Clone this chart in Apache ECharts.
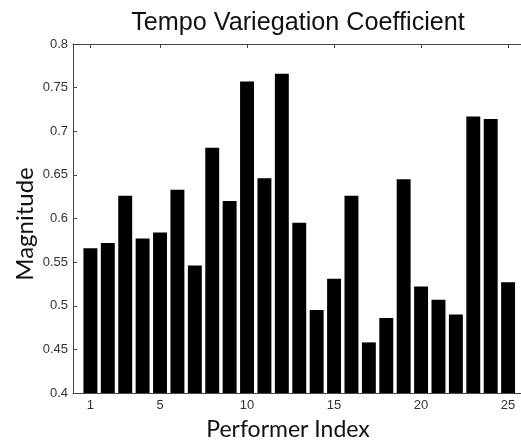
<!DOCTYPE html>
<html>
<head>
<meta charset="utf-8">
<script src="https://cdn.jsdelivr.net/npm/echarts@6/dist/echarts.min.js"></script>
<style>
  html, body { margin: 0; padding: 0; background: #fff; }
  #chart { width: 521px; height: 443px; }
</style>
</head>
<body>
<div id="chart"></div>
<script>
// Performer indices and their tempo variegation coefficients
const performers = [1, 2, 3, 4, 5, 6, 7, 8, 9, 10, 11, 12, 13, 14, 15, 16, 17, 18, 19, 20, 21, 22, 23, 24, 25];
const magnitudes = [0.566, 0.572, 0.626, 0.577, 0.584, 0.633, 0.546, 0.681, 0.620, 0.757,
                    0.646, 0.766, 0.595, 0.495, 0.531, 0.626, 0.458, 0.486, 0.645, 0.522,
                    0.507, 0.490, 0.717, 0.714, 0.527];
const xTicks = [1, 5, 10, 15, 20, 25];
const yMin = 0.4, yMax = 0.8, yStep = 0.05;
const xMin = 0, xMax = 26;

const titleText = 'Tempo Variegation Coefficient';
const xLabel = 'Performer Index';
const yLabel = 'Magnitude';

const chart = echarts.init(document.getElementById('chart'), null, { renderer: 'canvas' });

const axisColor = '#444';
const tickFont = { color: '#333', fontFamily: 'Liberation Sans', fontSize: 13 };
const labelFont = 'Lato';

const option = {
  animation: false,
  backgroundColor: '#fff',
  title: {
    text: titleText,
    left: 293, top: 6,
    textAlign: 'center',
    textStyle: { fontFamily: 'Liberation Sans', fontSize: 25.2, fontWeight: 'normal', color: '#111' }
  },
  // plot box runs a little past the right edge of the canvas
  grid: { left: 73, top: 44, height: 349, width: 452.5, containLabel: false, outerBoundsMode: 'none' },
  xAxis: [
    {
      type: 'value', min: xMin, max: xMax, position: 'bottom',
      splitLine: { show: false },
      axisLine: { show: true, onZero: false, lineStyle: { color: axisColor, width: 1 } },
      axisTick: { show: true, inside: true, length: 4, customValues: xTicks, lineStyle: { color: axisColor } },
      axisLabel: Object.assign({ customValues: xTicks, margin: 6 }, tickFont)
    },
    {
      type: 'value', min: xMin, max: xMax, position: 'top',
      splitLine: { show: false },
      axisLine: { show: true, onZero: false, lineStyle: { color: axisColor, width: 1 } },
      axisTick: { show: true, inside: true, length: 4, customValues: xTicks, lineStyle: { color: axisColor } },
      axisLabel: { show: false }
    }
  ],
  yAxis: [
    {
      type: 'value', min: yMin, max: yMax, interval: yStep, position: 'left',
      splitLine: { show: false },
      axisLine: { show: true, onZero: false, lineStyle: { color: axisColor, width: 1 } },
      axisTick: { show: true, inside: true, length: 4, lineStyle: { color: axisColor } },
      axisLabel: Object.assign({ margin: 5, formatter: v => String(+v.toFixed(2)) }, tickFont)
    },
    {
      type: 'value', min: yMin, max: yMax, interval: yStep, position: 'right',
      splitLine: { show: false },
      axisLine: { show: true, onZero: false, lineStyle: { color: axisColor, width: 1 } },
      axisTick: { show: true, inside: true, length: 4, lineStyle: { color: axisColor } },
      axisLabel: { show: false }
    }
  ],
  series: [{
    type: 'bar',
    xAxisIndex: 0, yAxisIndex: 0,
    data: performers.map((p, i) => [p, magnitudes[i]]),
    barWidth: '80%',
    itemStyle: { color: '#000' }
  }],
  graphic: [
    {
      type: 'text', x: 288, y: 430,
      style: { text: xLabel, fontFamily: labelFont, fontSize: 23, fill: '#111', textAlign: 'center', textVerticalAlign: 'middle' }
    },
    {
      type: 'text', x: 25, y: 224, rotation: Math.PI / 2,
      style: { text: yLabel, fontFamily: labelFont, fontSize: 24, fill: '#111', textAlign: 'center', textVerticalAlign: 'middle' }
    }
  ]
};

chart.setOption(option);
</script>
</body>
</html>
